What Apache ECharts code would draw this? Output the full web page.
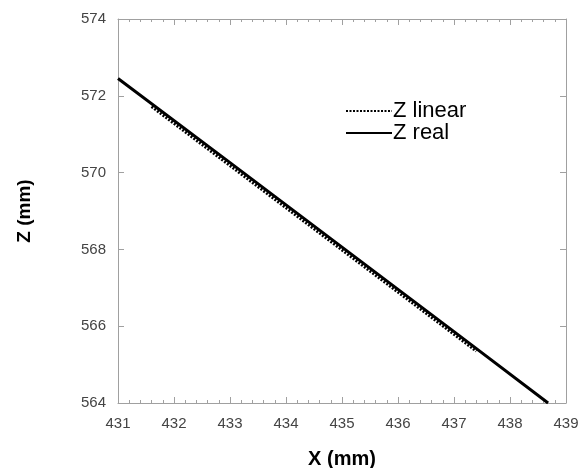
<!DOCTYPE html>
<html><head><meta charset="utf-8">
<script src="https://cdn.jsdelivr.net/npm/echarts@6/dist/echarts.min.js"></script>
<style>html,body{margin:0;padding:0;background:#fff}#c{width:579px;height:468px}</style>
</head><body><div id="c"></div>
<script>
const xReal = [431, 433, 435, 437, 438.68];
const zReal = [572.45, 570.26, 568.06, 565.86, 564.0];
const xLinear = [431.6, 437.4];
const zLinear = [571.72, 565.35];
const xTicks = [431, 432, 433, 434, 435, 436, 437, 438, 439];
const zTicks = [564, 566, 568, 570, 572, 574];

const gray = '#a0a0a0';
const font = 'Liberation Sans, Arial, sans-serif';
const chart = echarts.init(document.getElementById('c'));
const xBase = {
  type: 'value', min: xTicks[0], max: xTicks[xTicks.length-1], interval: 1,
  axisLine: {show: true, lineStyle: {color: gray, width: 1}},
  axisTick: {show: true, inside: true, length: 6, lineStyle: {color: gray}},
  minorTick: {show: true, splitNumber: 5, length: 3, lineStyle: {color: gray}},
  splitLine: {show: false}
};
const yBase = {
  type: 'value', min: zTicks[0], max: zTicks[zTicks.length-1], interval: 2,
  axisLine: {show: true, lineStyle: {color: gray, width: 1}},
  axisTick: {show: true, inside: true, length: 6, lineStyle: {color: gray}},
  splitLine: {show: false}
};
chart.setOption({
  animation: false,
  grid: {left: 118, right: 13, top: 19, bottom: 65, containLabel: false, outerBoundsMode: 'none'},
  legend: {
    orient: 'vertical', left: 340, top: 95, itemWidth: 46, itemHeight: 10, itemGap: 0,
    itemStyle: {opacity: 0},
    textStyle: {fontFamily: font, fontSize: 22, lineHeight: 22, color: '#000', padding: [0,0,0,-4]},
    data: ['Z linear', 'Z real']
  },
  xAxis: [
    Object.assign({}, xBase, {position: 'bottom',
      name: 'X (mm)', nameLocation: 'middle', nameGap: 46,
      nameTextStyle: {fontFamily: font, fontSize: 20, fontWeight: 'bold', color: '#000'},
      axisLabel: {fontFamily: font, fontSize: 15, color: '#444', margin: 13}}),
    Object.assign({}, xBase, {position: 'top', axisLabel: {show: false}})
  ],
  yAxis: [
    Object.assign({}, yBase, {position: 'left',
      name: 'Z (mm)', nameLocation: 'middle', nameGap: 84, nameRotate: 90,
      nameTextStyle: {fontFamily: font, fontSize: 19, fontWeight: 'bold', color: '#000'},
      axisLabel: {fontFamily: font, fontSize: 15, color: '#444', margin: 12}}),
    Object.assign({}, yBase, {position: 'right', axisLabel: {show: false}})
  ],
  series: [
    {name: 'Z linear', type: 'line', symbol: 'none', xAxisIndex: 0, yAxisIndex: 0,
     data: xLinear.map((x, i) => [x, zLinear[i]]),
     lineStyle: {color: '#000', width: 3, type: [2, 1.5]}, z: 2},
    {name: 'Z real', type: 'line', symbol: 'none', xAxisIndex: 0, yAxisIndex: 0,
     data: xReal.map((x, i) => [x, zReal[i]]),
     lineStyle: {color: '#000', width: 3}, z: 3}
  ]
});
</script></body></html>
